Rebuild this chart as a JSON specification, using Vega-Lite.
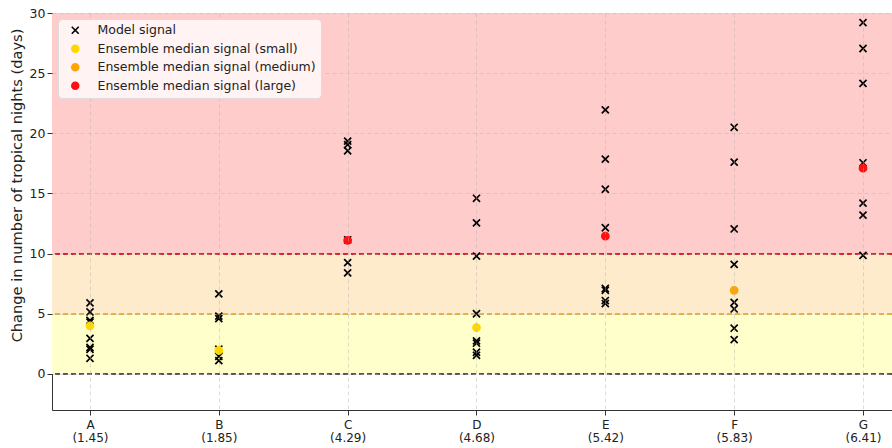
{
  "$schema": "https://vega.github.io/schema/vega-lite/v6.json",
  "width": 840,
  "height": 397,
  "autosize": {"type": "none"},
  "padding": {"left": 52, "top": 13, "right": 0, "bottom": 38},
  "background": "white",
  "config": {
    "font": "DejaVu Sans",
    "view": {"stroke": "#333333", "strokeWidth": 1}
  },
  "datasets": {
    "pts": [
      {"cat": "A (1.45)", "value": 5.9, "series": "Model signal"},
      {"cat": "A (1.45)", "value": 5.15, "series": "Model signal"},
      {"cat": "A (1.45)", "value": 4.45, "series": "Model signal"},
      {"cat": "A (1.45)", "value": 4.3, "series": "Model signal"},
      {"cat": "A (1.45)", "value": 2.95, "series": "Model signal"},
      {"cat": "A (1.45)", "value": 2.2, "series": "Model signal"},
      {"cat": "A (1.45)", "value": 2.05, "series": "Model signal"},
      {"cat": "A (1.45)", "value": 1.3, "series": "Model signal"},
      {"cat": "B (1.85)", "value": 6.65, "series": "Model signal"},
      {"cat": "B (1.85)", "value": 4.8, "series": "Model signal"},
      {"cat": "B (1.85)", "value": 4.6, "series": "Model signal"},
      {"cat": "B (1.85)", "value": 2.05, "series": "Model signal"},
      {"cat": "B (1.85)", "value": 1.45, "series": "Model signal"},
      {"cat": "B (1.85)", "value": 1.1, "series": "Model signal"},
      {"cat": "C (4.29)", "value": 19.35, "series": "Model signal"},
      {"cat": "C (4.29)", "value": 19.05, "series": "Model signal"},
      {"cat": "C (4.29)", "value": 18.55, "series": "Model signal"},
      {"cat": "C (4.29)", "value": 11.15, "series": "Model signal"},
      {"cat": "C (4.29)", "value": 9.25, "series": "Model signal"},
      {"cat": "C (4.29)", "value": 8.4, "series": "Model signal"},
      {"cat": "D (4.68)", "value": 14.6, "series": "Model signal"},
      {"cat": "D (4.68)", "value": 12.55, "series": "Model signal"},
      {"cat": "D (4.68)", "value": 9.8, "series": "Model signal"},
      {"cat": "D (4.68)", "value": 5.0, "series": "Model signal"},
      {"cat": "D (4.68)", "value": 2.75, "series": "Model signal"},
      {"cat": "D (4.68)", "value": 2.55, "series": "Model signal"},
      {"cat": "D (4.68)", "value": 1.8, "series": "Model signal"},
      {"cat": "D (4.68)", "value": 1.55, "series": "Model signal"},
      {"cat": "E (5.42)", "value": 21.95, "series": "Model signal"},
      {"cat": "E (5.42)", "value": 17.85, "series": "Model signal"},
      {"cat": "E (5.42)", "value": 15.35, "series": "Model signal"},
      {"cat": "E (5.42)", "value": 12.15, "series": "Model signal"},
      {"cat": "E (5.42)", "value": 7.1, "series": "Model signal"},
      {"cat": "E (5.42)", "value": 6.95, "series": "Model signal"},
      {"cat": "E (5.42)", "value": 6.1, "series": "Model signal"},
      {"cat": "E (5.42)", "value": 5.85, "series": "Model signal"},
      {"cat": "F (5.83)", "value": 20.5, "series": "Model signal"},
      {"cat": "F (5.83)", "value": 17.6, "series": "Model signal"},
      {"cat": "F (5.83)", "value": 12.05, "series": "Model signal"},
      {"cat": "F (5.83)", "value": 9.1, "series": "Model signal"},
      {"cat": "F (5.83)", "value": 5.95, "series": "Model signal"},
      {"cat": "F (5.83)", "value": 5.4, "series": "Model signal"},
      {"cat": "F (5.83)", "value": 3.8, "series": "Model signal"},
      {"cat": "F (5.83)", "value": 2.85, "series": "Model signal"},
      {"cat": "G (6.41)", "value": 29.2, "series": "Model signal"},
      {"cat": "G (6.41)", "value": 27.05, "series": "Model signal"},
      {"cat": "G (6.41)", "value": 24.15, "series": "Model signal"},
      {"cat": "G (6.41)", "value": 17.55, "series": "Model signal"},
      {"cat": "G (6.41)", "value": 14.2, "series": "Model signal"},
      {"cat": "G (6.41)", "value": 13.2, "series": "Model signal"},
      {"cat": "G (6.41)", "value": 9.85, "series": "Model signal"},
      {"cat": "A (1.45)", "value": 4.0, "series": "Ensemble median signal (small)"},
      {"cat": "B (1.85)", "value": 1.95, "series": "Ensemble median signal (small)"},
      {"cat": "C (4.29)", "value": 11.1, "series": "Ensemble median signal (large)"},
      {"cat": "D (4.68)", "value": 3.85, "series": "Ensemble median signal (small)"},
      {"cat": "E (5.42)", "value": 11.45, "series": "Ensemble median signal (large)"},
      {"cat": "F (5.83)", "value": 6.95, "series": "Ensemble median signal (medium)"},
      {"cat": "G (6.41)", "value": 17.1, "series": "Ensemble median signal (large)"}
    ]
  },
  "data": {"name": "pts"},
  "layer": [
    {
      "mark": {"type": "rect", "fill": "#ffffcc"},
      "encoding": {"y": {"datum": 0, "type": "quantitative"}, "y2": {"datum": 5}}
    },
    {
      "mark": {"type": "rect", "fill": "#fdebcb"},
      "encoding": {"y": {"datum": 5, "type": "quantitative"}, "y2": {"datum": 10}}
    },
    {
      "mark": {"type": "rect", "fill": "#ffcccc"},
      "encoding": {"y": {"datum": 10, "type": "quantitative"}, "y2": {"datum": 30}}
    },
    {
      "mark": {"type": "rule", "stroke": "#555555", "strokeDash": [5, 3], "strokeWidth": 1.2},
      "encoding": {"y": {"datum": 0, "type": "quantitative"}}
    },
    {
      "mark": {"type": "rule", "stroke": "#f0b030", "strokeDash": [5, 3], "strokeWidth": 1.2},
      "encoding": {"y": {"datum": 5, "type": "quantitative"}}
    },
    {
      "mark": {"type": "rule", "stroke": "#dd2222", "strokeDash": [5, 3], "strokeWidth": 1.2},
      "encoding": {"y": {"datum": 10, "type": "quantitative"}}
    },
    {
      "mark": {"type": "point", "opacity": 0},
      "encoding": {
        "x": {
          "field": "cat", "type": "nominal", "sort": null,
          "scale": {"type": "point", "padding": 0.26, "align": 0.567},
          "axis": {
            "orient": "bottom",
            "title": null, "labelAngle": 0, "labelExpr": "split(datum.label, ' ')[1]",
            "labelFontSize": 12, "labelColor": "#222222", "labelBaseline": "top",
            "ticks": true, "tickOpacity": 0, "tickSize": 5, "labelPadding": 17,
            "domain": false, "grid": false
          }
        },
        "y": {"field": "value", "type": "quantitative"}
      }
    },
    {
      "mark": {"type": "point", "filled": true, "size": 50, "strokeWidth": 1.7, "opacity": 1},
      "encoding": {
        "x": {
          "field": "cat", "type": "nominal", "sort": null,
          "scale": {"type": "point", "padding": 0.26, "align": 0.567},
          "axis": {
            "orient": "bottom",
            "title": null, "labelAngle": 0, "labelExpr": "split(datum.label, ' ')[0]",
            "labelFontSize": 12, "labelColor": "#222222",
            "labelBaseline": "top",
            "tickColor": "#333333", "tickSize": 5, "labelPadding": 4,
            "domain": false, "grid": true, "gridColor": "#b8b0b0", "gridOpacity": 0.45,
            "gridDash": [4, 3], "zindex": 1
          }
        },
        "y": {
          "field": "value", "type": "quantitative",
          "scale": {"domain": [-3, 30], "nice": false, "zero": false},
          "axis": {
            "title": "Change in number of tropical nights (days)",
            "titleFontSize": 14.6, "titleFontWeight": "normal", "titleColor": "#222222", "titlePadding": 5,
            "titleY": 172,
            "values": [0, 5, 10, 15, 20, 25, 30],
            "labelFontSize": 12.5, "labelColor": "#222222", "tickColor": "#333333", "tickSize": 5,
            "domain": false, "grid": true, "gridColor": "#b8b0b0", "gridOpacity": 0.45,
            "gridDash": [4, 3], "zindex": 1
          }
        },
        "shape": {
          "field": "series", "type": "nominal",
          "scale": {
            "domain": ["Model signal", "Ensemble median signal (small)", "Ensemble median signal (medium)", "Ensemble median signal (large)"],
            "range": ["M-1,-1L1,1M-1,1L1,-1", "circle", "circle", "circle"]
          },
          "legend": {
            "title": null, "orient": "top-left", "offset": 6,
            "labelFontSize": 12.5, "labelColor": "#222222", "labelOffset": 16, "labelLimit": 0,
            "symbolSize": 48, "symbolStrokeWidth": 1.6, "symbolOffset": 6, "rowPadding": 4.5,
            "padding": 5, "fillColor": "#fff3f3", "strokeColor": "#dddddd", "cornerRadius": 4,
            "zindex": 2
          }
        },
        "color": {
          "field": "series", "type": "nominal",
          "scale": {
            "domain": ["Model signal", "Ensemble median signal (small)", "Ensemble median signal (medium)", "Ensemble median signal (large)"],
            "range": ["#000000", "#ffd700", "#ffa500", "#ff1010"]
          }
        },
        "stroke": {
          "field": "series", "type": "nominal",
          "scale": {
            "domain": ["Model signal", "Ensemble median signal (small)", "Ensemble median signal (medium)", "Ensemble median signal (large)"],
            "range": ["#000000", "#ffd700", "#ffa500", "#ff1010"]
          }
        },
        "order": {"field": "series", "sort": "descending"}
      }
    }
  ],
  "resolve": {"axis": {"x": "independent"}}
}
